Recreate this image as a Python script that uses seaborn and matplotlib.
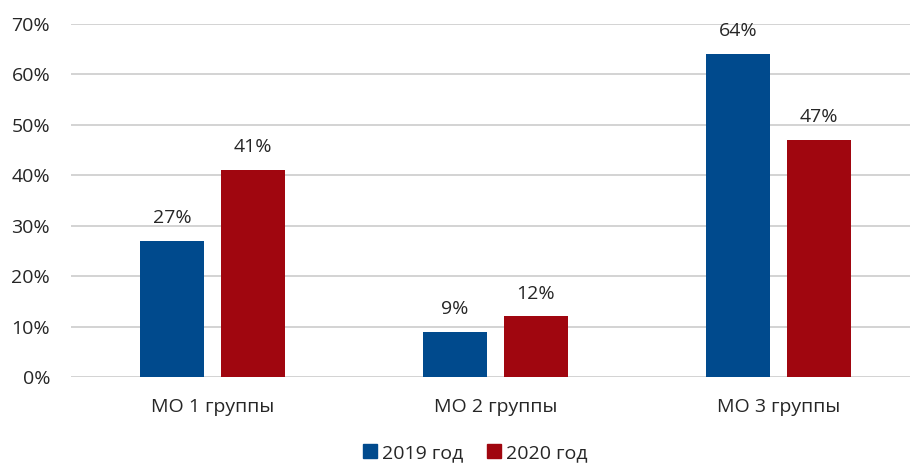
import pandas as pd
import seaborn as sns
import matplotlib.pyplot as plt
from matplotlib.ticker import FuncFormatter
from matplotlib.patches import Patch

groups = ['МО 1 группы', 'МО 2 группы', 'МО 3 группы']
years = ['2019 год', '2020 год']
v2019 = [27, 9, 64]
v2020 = [41, 12, 47]
colors = ['#004A8D', '#A0060F']

df = pd.DataFrame({
    'group': groups * 2,
    'year': [years[0]] * 3 + [years[1]] * 3,
    'value': v2019 + v2020,
})

sns.set_style('white')
plt.rcParams['font.family'] = ['Open Sans', 'DejaVu Sans']
plt.rcParams['text.color'] = '#262626'

fig = plt.figure(figsize=(9.1, 4.63), dpi=100)
ax = fig.add_axes([71 / 910, 86 / 463, 849 / 910, 353 / 463])

sns.barplot(data=df, x='group', y='value', hue='year', palette=colors,
            width=0.572, gap=0.21, ax=ax, legend=False, saturation=1,
            linewidth=0)

for c in ax.containers:
    ax.bar_label(c, labels=[f'{v:.0f}%' for v in c.datavalues],
                 padding=10, fontsize=14, color='#262626')

ax.set_ylim(0, 70)
ax.set_xlim(-0.5, 2.5)
ax.set_yticks(range(0, 71, 10))
ax.yaxis.set_major_formatter(FuncFormatter(lambda v, p: f'{v:.0f}%'))
ax.grid(axis='y', color='#D0D0D0', linewidth=1.3)
ax.set_axisbelow(True)
for s in ax.spines.values():
    s.set_visible(False)
ax.tick_params(axis='both', length=0, labelsize=14, labelcolor='#262626')
ax.tick_params(axis='y', pad=15)
ax.tick_params(axis='x', pad=15)
ax.set_xlabel('')
ax.set_ylabel('')

handles = [Patch(color=c) for c in colors]
fig.legend(handles, years, loc='center', bbox_to_anchor=(475 / 910, 1 - 453 / 463),
           ncol=2, frameon=False, fontsize=14, handlelength=0.75, handleheight=0.75,
           handletextpad=0.25, columnspacing=1.2)

fig.savefig('out.png', dpi=100)
